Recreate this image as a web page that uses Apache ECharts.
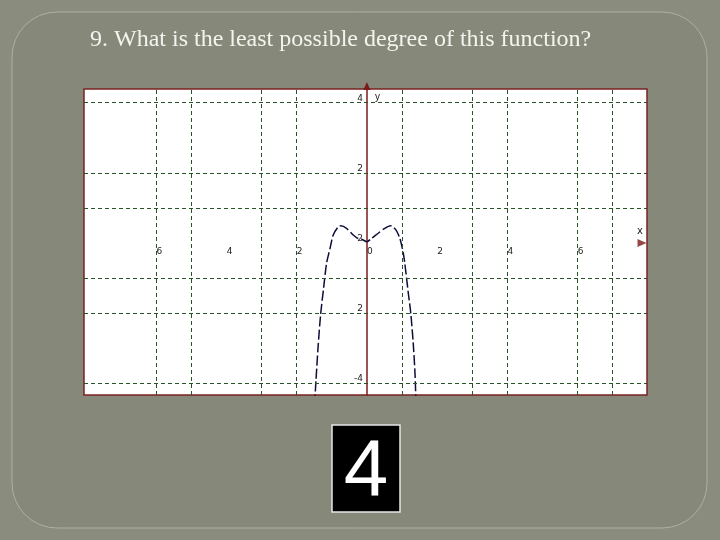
<!DOCTYPE html>
<html>
<head>
<meta charset="utf-8">
<script src="https://cdn.jsdelivr.net/npm/echarts@6/dist/echarts.min.js"></script>
<style>
body{margin:0;background:#8a8c7d;}
#main{width:720px;height:540px;}
</style>
</head>
<body>
<div id="main"></div>
<script>
// curve
var curveX = [-1.49,-1.45,-1.39,-1.32,-1.23,-1.15,-1.05,-0.96,-0.82,-0.74,-0.58,-0.39,-0.25,-0.15,0,0.13,0.32,0.51,0.68,0.83,0.94,1.03,1.08,1.18,1.25,1.32,1.37,1.40];
var curveY = [-4.6,-3.90,-2.95,-2.05,-1.25,-0.58,-0.15,0.23,0.46,0.49,0.42,0.23,0.13,0.11,0.04,0.13,0.28,0.42,0.49,0.37,0.13,-0.25,-0.58,-1.43,-2.00,-2.86,-3.71,-4.6];
var gridX = [-6,-5,-3,-2,1,3,4,6,7];
var gridY = [4,2,1,-1,-2,-4];
var xTicks = [-6,-4,-2,0,2,4,6];
var xTickLabels = ['6','4','2','0','2','4','6'];
var yTicks = [4,2,0,-2,-4];
var yTickLabels = ['4','2','2','2','-4'];
var xMin = -8.06, xMax = 7.98, yMin = -4.33, yMax = 4.39;
var question = '9. What is the least possible degree of this function?';
var answer = '4';

var curve = [];
for (var i = 0; i < curveX.length; i++) curve.push([curveX[i], curveY[i]]);

var marks = [];
gridX.forEach(function (v) { marks.push({xAxis: v}); });
gridY.forEach(function (v) { marks.push({yAxis: v}); });

var myChart = echarts.init(document.getElementById('main'));
var options = {
    backgroundColor: '#8a8c7d',
    animation: false,
    title: {
        text: question,
        left: 85, top: 23,
        textStyle: {fontFamily: 'Liberation Serif', fontSize: 24, fontWeight: 'normal', color: '#f4f4ef'}
    },
    grid: {
        left: 84, top: 89, width: 563, height: 306,
        show: true, backgroundColor: '#ffffff',
        borderColor: '#7a2222', borderWidth: 1.5
    },
    xAxis: {
        type: 'value', min: xMin, max: xMax,
        splitLine: {show: false},
        axisTick: {show: false},
        axisLine: {show: false},
        axisLabel: {
            customValues: xTicks,
            formatter: function (v) { return xTickLabels[xTicks.indexOf(v)]; },
            fontSize: 9, color: '#222', margin: -148, verticalAlign: 'top', padding: [0, 0, 0, 6],
            fontFamily: 'DejaVu Sans'
        }
    },
    yAxis: {
        type: 'value', min: yMin, max: yMax,
        name: 'y', nameLocation: 'end', nameGap: -13,
        nameTextStyle: {align: 'left', padding: [0, 0, 0, 8], fontSize: 10, color: '#222'},
        splitLine: {show: false},
        axisTick: {show: false},
        axisLine: {
            show: true, onZero: true,
            symbol: ['none', 'triangle'], symbolSize: [7, 8], symbolOffset: [0, 3],
            lineStyle: {color: '#7a1a1a', width: 1.5}
        },
        axisLabel: {
            customValues: yTicks,
            formatter: function (v) { return yTickLabels[yTicks.indexOf(v)]; },
            fontSize: 9, color: '#222', margin: -279, align: 'right', verticalAlign: 'bottom',
            fontFamily: 'DejaVu Sans'
        }
    },
    graphic: [
        {type: 'rect', z: -10, shape: {x: 12, y: 12, width: 695, height: 516, r: 45},
            style: {fill: '#868979', stroke: '#aeb0a0', lineWidth: 1}},
        {type: 'rect', shape: {x: 332, y: 425, width: 68, height: 87},
            style: {fill: '#000000', stroke: '#e6e6e6', lineWidth: 1.5}},
        {type: 'text', x: 366, y: 473,
            style: {text: answer, fill: '#ffffff', font: '80px "Liberation Sans"', align: 'center', verticalAlign: 'middle'}},
        {type: 'text', x: 637, y: 226,
            style: {text: 'x', fill: '#222', font: '10px "DejaVu Sans"'}}
    ],
    series: [
        {
            type: 'line',
            data: curve,
            smooth: 0.25,
            showSymbol: false,
            lineStyle: {color: '#0d0d3a', width: 1.5, type: [10, 3]},
            markLine: {
                silent: true,
                symbol: 'none',
                label: {show: false},
                lineStyle: {color: '#285528', width: 1, type: [4, 3]},
                data: marks
            },
            z: 3
        },
        {
            // arrow at the end of the x axis
            type: 'scatter',
            data: [[xMax, 0]],
            symbol: 'triangle', symbolRotate: -90, symbolSize: [8, 9], symbolOffset: [-5, 0],
            itemStyle: {color: '#7a1a1a'},
            silent: true
        }
    ]
};
myChart.setOption(options);
</script>
</body>
</html>
